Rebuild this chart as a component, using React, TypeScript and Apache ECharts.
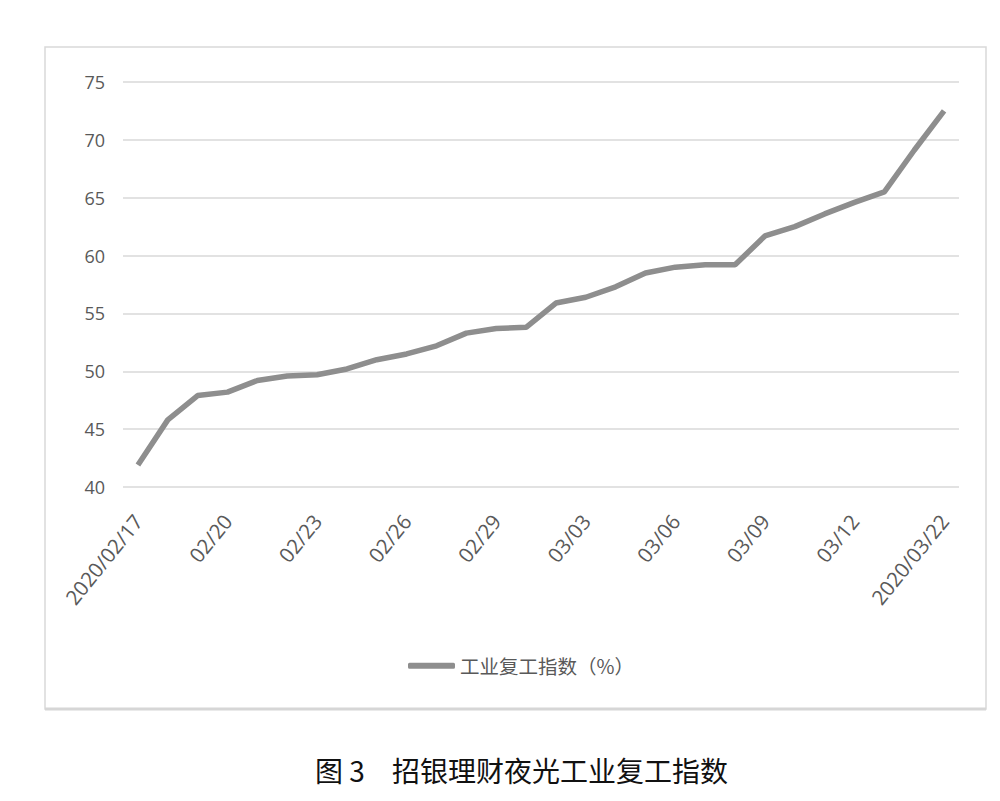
import React, { useEffect, useRef } from "react";
import * as echarts from "echarts";

const categories: string[] = [
  "2020/02/17", "02/18", "02/19", "02/20", "02/21", "02/22", "02/23", "02/24", "02/25", "02/26",
  "02/27", "02/28", "02/29", "03/01", "03/02", "03/03", "03/04", "03/05", "03/06", "03/07",
  "03/08", "03/09", "03/10", "03/11", "03/12", "03/13", "03/14", "2020/03/22",
];

const industrialIndex: number[] = [
  41.9, 45.8, 47.9, 48.2, 49.2, 49.6, 49.7, 50.2, 51.0, 51.5,
  52.2, 53.3, 53.7, 53.8, 55.9, 56.4, 57.3, 58.5, 59.0, 59.2,
  59.2, 61.7, 62.5, 63.6, 64.6, 65.5, 69.1, 72.5,
];

const seriesName = "工业复工指数（%）";
const captionPrefix = "图 3";
const captionText = "招银理财夜光工业复工指数";

export default function App() {
  const ref = useRef<HTMLDivElement>(null);
  useEffect(() => {
    if (!ref.current) return;
    const chart = echarts.init(ref.current, undefined, { renderer: "svg" });
    chart.setOption({
      animation: false,
      backgroundColor: "#ffffff",
      grid: { left: 123, right: 41, top: 82, bottom: 314, containLabel: false },
      xAxis: {
        type: "category",
        data: categories,
        boundaryGap: true,
        axisLine: { show: false },
        axisTick: { show: false },
        axisLabel: {
          interval: 2,
          rotate: 51,
          margin: 30,
          color: "#595959",
          fontFamily: "Open Sans",
          fontSize: 20.5,
        },
      },
      yAxis: {
        type: "value",
        min: 40,
        max: 75,
        interval: 5,
        axisLine: { show: false },
        axisTick: { show: false },
        axisLabel: {
          margin: 18,
          color: "#595959",
          fontFamily: "Open Sans",
          fontSize: 18,
        },
        splitLine: { lineStyle: { color: "#d9d9d9", width: 1.5 } },
      },
      legend: {
        data: [{ name: seriesName, icon: "roundRect" }],
        left: 403,
        top: 651,
        itemWidth: 47,
        itemHeight: 6,
        itemGap: 10,
        textStyle: {
          color: "#595959",
          fontFamily: "Noto Sans CJK SC",
          fontSize: 19.5,
          padding: [0, 0, 0, 0],
        },
      },
      graphic: [
        {
          type: "rect",
          shape: { x: 45, y: 47, width: 941, height: 662 },
          style: { fill: "none", stroke: "#d9d9d9", lineWidth: 1.5 },
          silent: true,
        },
        {
          type: "line",
          shape: { x1: 45, y1: 709, x2: 986, y2: 709 },
          style: { stroke: "#d6d6d6", lineWidth: 3 },
          silent: true,
        },
        {
          type: "text",
          left: 315,
          top: 756,
          style: {
            text: captionPrefix,
            fill: "#111111",
            fontFamily: "Noto Sans CJK SC",
            fontSize: 28,
            fontWeight: "normal",
          },
        },
        {
          type: "text",
          left: 392,
          top: 756,
          style: {
            text: captionText,
            fill: "#111111",
            fontFamily: "Noto Sans CJK SC",
            fontSize: 28,
            fontWeight: "normal",
          },
        },
      ],
      series: [
        {
          name: seriesName,
          type: "line",
          data: industrialIndex,
          symbol: "none",
          lineStyle: { color: "#8e8e8e", width: 5.5 },
          itemStyle: { color: "#8e8e8e" },
        },
      ],
    });
    return () => chart.dispose();
  }, []);
  return (
    <div
      ref={ref}
      style={{ position: "absolute", left: 0, top: 0, width: 1000, height: 801, background: "#fff" }}
    />
  );
}
